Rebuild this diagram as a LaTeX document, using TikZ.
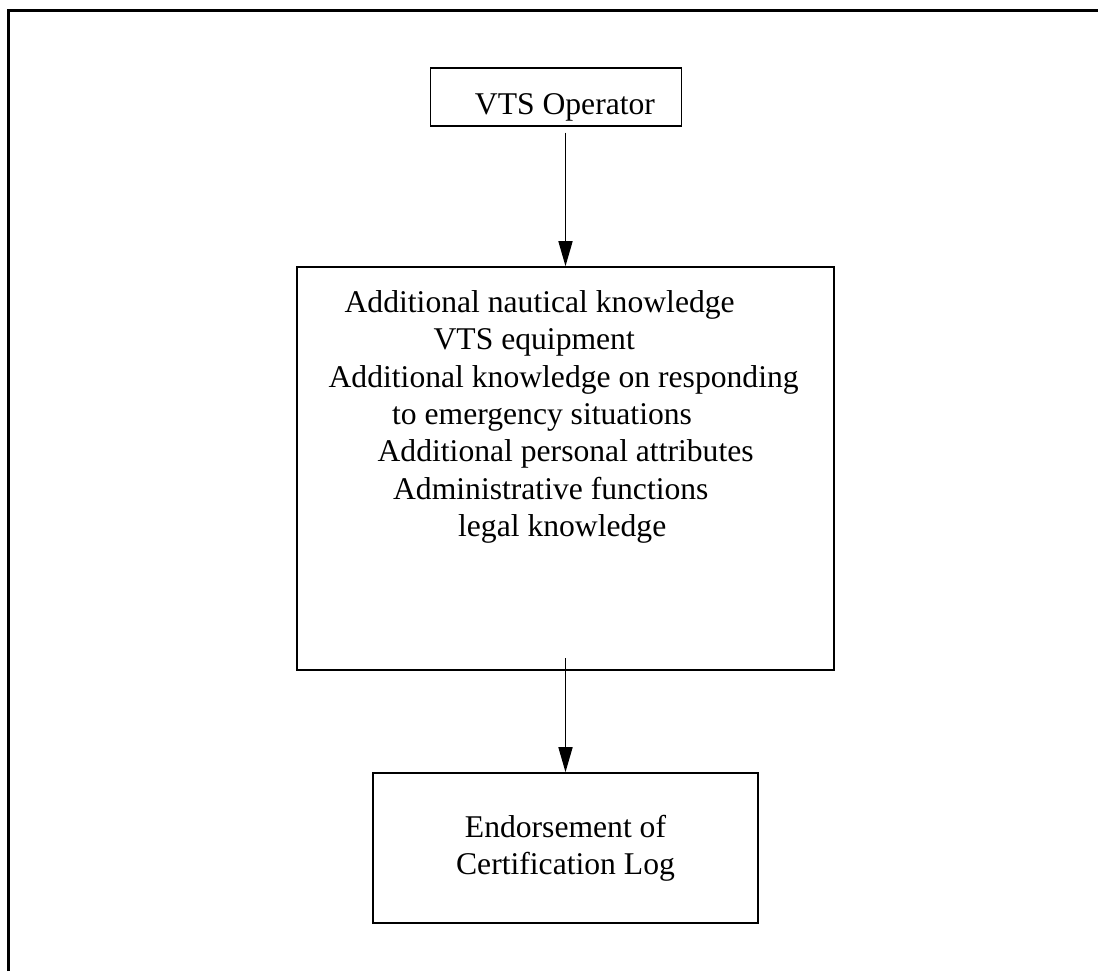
\documentclass[tikz,border=0pt]{standalone}
\usepackage{fontspec}
\setmainfont{Liberation Serif}
\usepackage{tikz}
\usetikzlibrary{arrows.meta, positioning}

\begin{document}
\begin{tikzpicture}[
    font=\fontsize{18}{21.26}\selectfont,
    box/.style={draw, line width=0.9pt, inner sep=0pt},
    flow/.style={line width=0.9pt, -{Triangle[length=0.5cm, width=0.28cm]}}
]
\useasboundingbox (0,0) rectangle (21.96,-19.42);

% Outer frame (open at right and bottom)
\draw[line width=1.4pt] (0.17,-19.42) |- (21.96,-0.21);

% VTS operator
\node[box, minimum width=5.02cm, minimum height=1.15cm,
      text height=0.68cm, text depth=0cm] (operator) at (11.12,-1.94)
    {\hspace*{0.36cm}VTS Operator};

% Training content
\node[box, minimum width=10.75cm, minimum height=8.06cm] (skills) at (11.31,-9.37) {};
\node[anchor=north west, align=left, inner sep=0pt] (skilltext) at (6.566,-5.80)
    {\hspace*{0.32cm}Additional nautical knowledge\\
     \hspace*{2.10cm}VTS equipment\\
     Additional knowledge on responding\\
     \hspace*{1.27cm}to emergency situations\\
     \hspace*{0.98cm}Additional personal attributes\\
     \hspace*{1.29cm}Administrative functions\\
     \hspace*{2.59cm}legal knowledge};

% Endorsement
\node[box, minimum width=7.7cm, minimum height=3.0cm, align=center] (endorse) at (11.31,-16.96)
    {Endorsement of\\Certification Log};

% Connectors
\path (operator.south -| skills.north) ++(0,-0.12) coordinate (opout);
\path (skills.south) ++(0,0.25) coordinate (skout);
\draw[flow] (opout) -- (skills.north);
\draw[flow] (skout) -- (endorse.north);
\end{tikzpicture}
\end{document}
